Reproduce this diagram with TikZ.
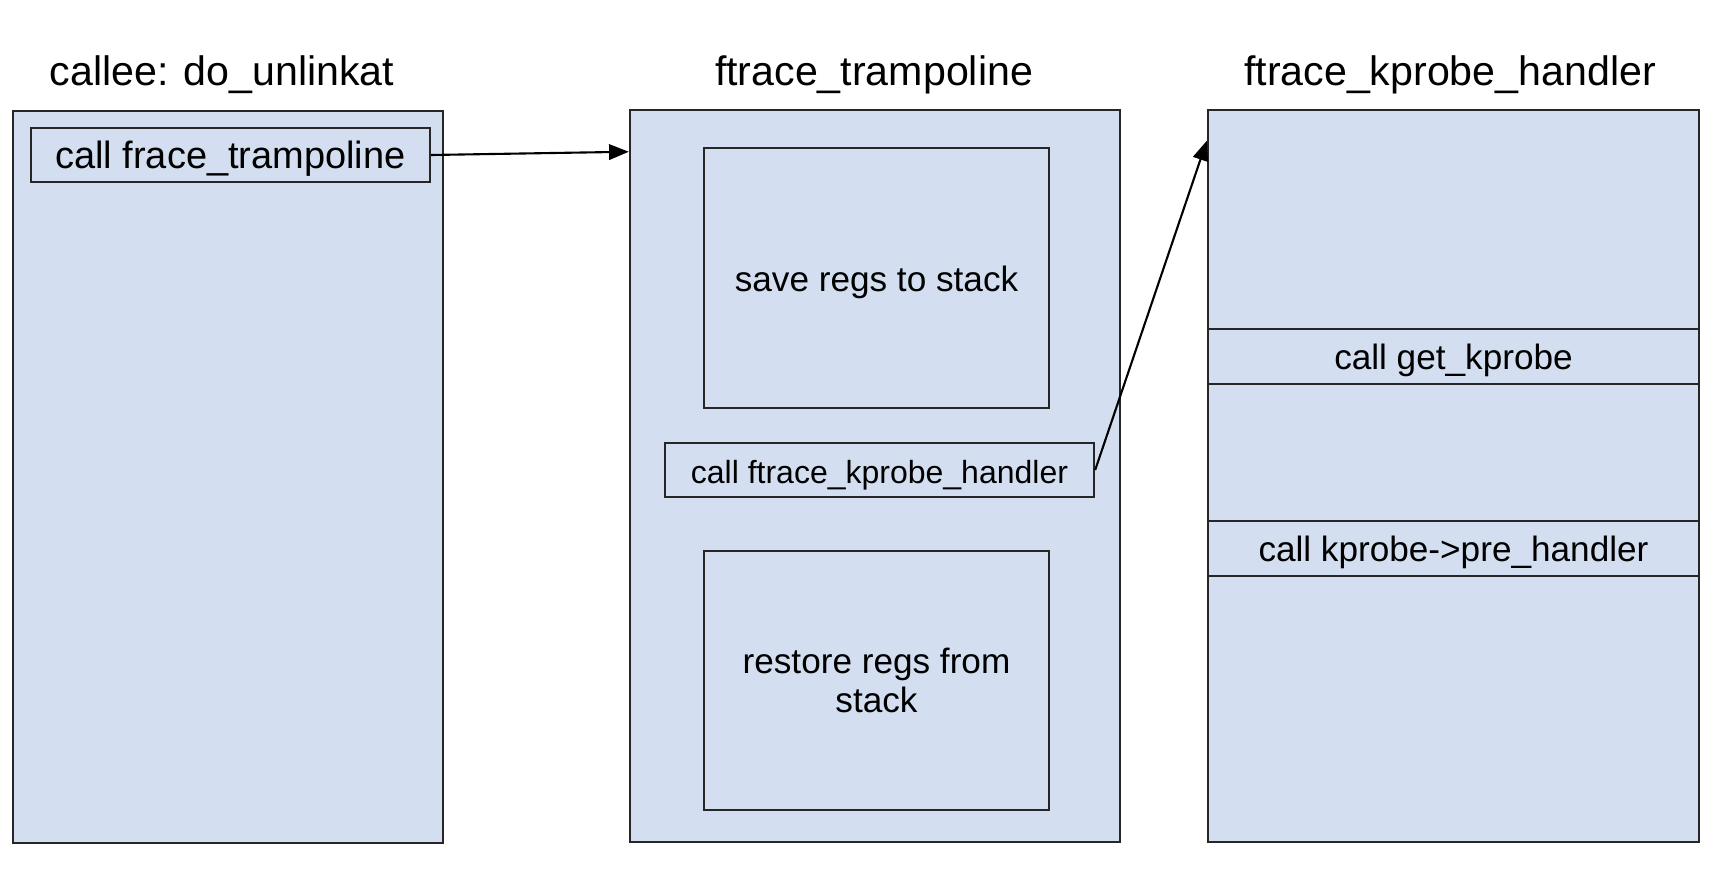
\documentclass[tikz,border=0pt]{standalone}
\usepackage{fontspec}
\setmainfont{Liberation Sans}
\usepackage{tikz}
\usetikzlibrary{arrows.meta}

\definecolor{framefill}{RGB}{211,223,240}

\begin{document}
\begin{tikzpicture}[x=0.01cm,y=-0.01cm,
        frame/.style={shape=rectangle,draw=black!85,line width=0.6pt,fill=framefill,inner sep=0pt},
        oneline/.style={text height=0.95em,text depth=0.2em},
        title/.style={oneline,font=\fontsize{11.7}{14}\selectfont},
        label/.style={font=\fontsize{10}{11.2}\selectfont},
        callarrow/.style={-{Triangle[length=5.6pt,width=4.4pt]},line width=0.6pt}]
        \useasboundingbox (0,0) rectangle (1714,870);

        % the three functions
        \node[frame,minimum width=4.30cm,minimum height=7.32cm] (callee) at (228,477) {};
        \node[frame,minimum width=4.90cm,minimum height=7.32cm] (tramp) at (875,476) {};
        \node[frame,minimum width=4.91cm,minimum height=7.32cm] (handler) at (1453.5,476) {};

        \node[title] (calleename) at (222,72) {callee: do\_unlinkat};
        \node[title] (trampname) at (874,72) {ftrace\_trampoline};
        \node[title] (handlername) at (1450,72) {ftrace\_kprobe\_handler};

        % callee body
        \node[frame,oneline,minimum width=3.99cm,minimum height=0.54cm,font=\fontsize{10.8}{13}\selectfont] (calltramp) at (230.5,155) {call frace\_trampoline};

        % trampoline body
        \node[frame,label,oneline,minimum width=3.45cm,minimum height=2.60cm] (save) at (876.5,278) {save regs to stack};
        \node[frame,oneline,minimum width=4.29cm,minimum height=0.54cm,font=\fontsize{9.1}{11}\selectfont] (callhandler) at (879.5,470) {call ftrace\_kprobe\_handler};
        \node[frame,label,minimum width=3.45cm,minimum height=2.59cm,align=center] (restore) at (876.5,680.5) {restore regs from\\stack};

        % handler body
        \node[frame,label,oneline,minimum width=4.91cm,minimum height=0.55cm] (getkprobe) at (1453.5,356.5) {call get\_kprobe};
        \node[frame,label,oneline,minimum width=4.91cm,minimum height=0.55cm] (prehandler) at (1453.5,548.5) {call kprobe->pre\_handler};

        \path [callarrow](calltramp.east) edge ([yshift=-0.43cm]tramp.north west);
        \path [callarrow](callhandler.east) edge ([yshift=-0.32cm]handler.north west);
    \end{tikzpicture}
\end{document}
